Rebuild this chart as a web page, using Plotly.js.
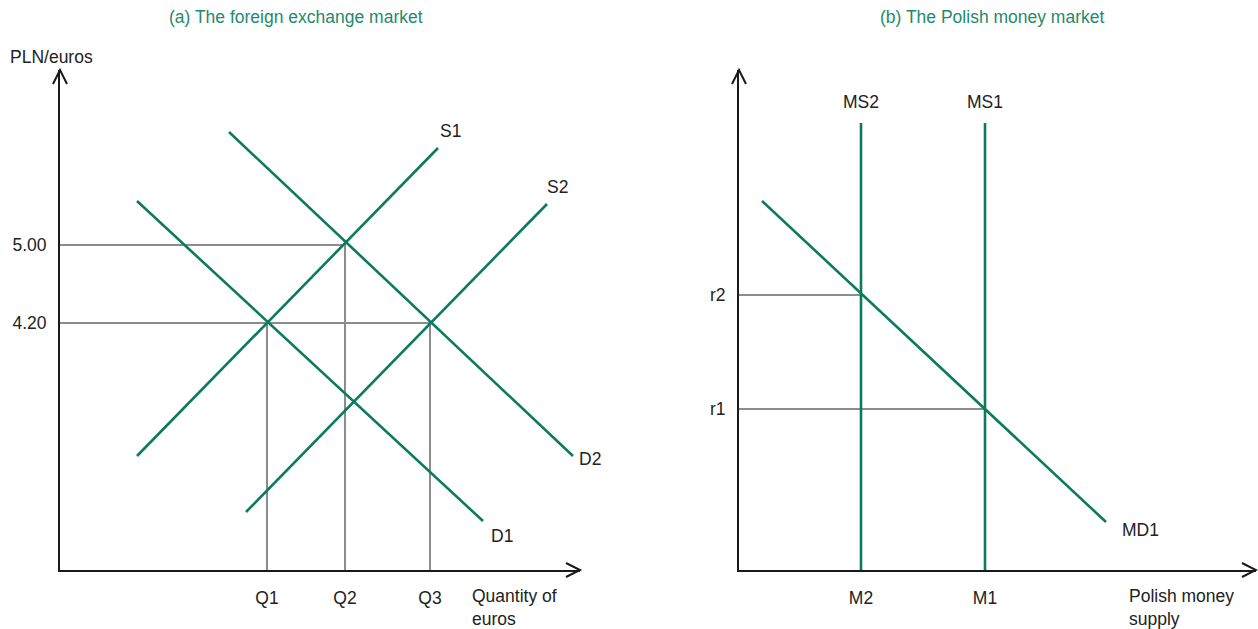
<!DOCTYPE html>
<html>
<head>
<meta charset="utf-8">
<script src="https://cdn.plot.ly/plotly-3.0.1.min.js"></script>
<style>html,body{margin:0;padding:0;background:#fff}#chart{width:1258px;height:629px}</style>
</head>
<body>
<div id="chart"></div>
<script>
// ---- Panel (a): foreign exchange market (abstract units, origin at axes corner)
const s1X = [77, 378],  s1Y = [114, 422];
const s2X = [186, 487], s2Y = [58, 366];
const d1X = [77, 423],  d1Y = [369, 49];
const d2X = [169, 513], d2Y = [438, 114];
const qVals = [207, 285, 370];
const qLabels = ['Q1', 'Q2', 'Q3'];
const pVals = [325, 247];
const pLabels = ['5.00', '4.20'];
const curveLabelsA = ['S1', 'S2', 'D1', 'D2'];
const curveLabelPosA = [[390, 439], [497, 383], [442, 34], [530, 111]];

// ---- Panel (b): Polish money market
const msX = [122, 246];           // MS2, MS1
const msTop = 447;
const msLabels = ['MS2', 'MS1'];
const mLabels = ['M2', 'M1'];
const md1X = [23, 367], md1Y = [369, 48];
const rVals = [275, 161];
const rLabels = ['r2', 'r1'];

const GREEN = '#0b7a5e';
const GRAY = '#8c8c8c';
const BLACK = '#1a1a1a';
const FONT = 'Liberation Sans, Arial, sans-serif';

const green = {color: GREEN, width: 2.6};
const gray = {color: GRAY, width: 2};

const W = 1258, H = 629;
// plot-area geometry (pixels)
const A = {x0: 60, x1: 580, xr: 520};
const B = {x0: 739, x1: 1256, xr: 517};
const Y0 = 570, Y1 = 70, YR = 500;
const px = (p, v) => (p.x0 + v * (p.x1 - p.x0) / p.xr) / W;  // data x -> paper
const py = v => (H - (Y0 - v * (Y0 - Y1) / YR)) / H;         // data y -> paper

const traces = [];
traces.push({x: [0, qVals[1], qVals[1]], y: [pVals[0], pVals[0], 0], xaxis: 'x', yaxis: 'y', mode: 'lines', line: gray, hoverinfo: 'skip'});
traces.push({x: [0, qVals[2], qVals[2]], y: [pVals[1], pVals[1], 0], xaxis: 'x', yaxis: 'y', mode: 'lines', line: gray, hoverinfo: 'skip'});
traces.push({x: [qVals[0], qVals[0]], y: [pVals[1], 0], xaxis: 'x', yaxis: 'y', mode: 'lines', line: gray, hoverinfo: 'skip'});
[[s1X, s1Y], [s2X, s2Y], [d1X, d1Y], [d2X, d2Y]].forEach(([xs, ys]) => {
  traces.push({x: xs, y: ys, xaxis: 'x', yaxis: 'y', mode: 'lines', line: green, hoverinfo: 'skip'});
});
traces.push({x: [0, msX[0]], y: [rVals[0], rVals[0]], xaxis: 'x2', yaxis: 'y2', mode: 'lines', line: gray, hoverinfo: 'skip'});
traces.push({x: [0, msX[1]], y: [rVals[1], rVals[1]], xaxis: 'x2', yaxis: 'y2', mode: 'lines', line: gray, hoverinfo: 'skip'});
msX.forEach(v => traces.push({x: [v, v], y: [0, msTop], xaxis: 'x2', yaxis: 'y2', mode: 'lines', line: green, hoverinfo: 'skip'}));
traces.push({x: md1X, y: md1Y, xaxis: 'x2', yaxis: 'y2', mode: 'lines', line: green, hoverinfo: 'skip'});

const txt = {family: FONT, size: 17.5, color: '#222'};
const titleFont = {family: FONT, size: 17.5, color: '#1f8a6c'};
const annotations = [];
const pa = (x, y, text, extra) => annotations.push(Object.assign({x: x, y: y, xref: 'paper', yref: 'paper', text: text, showarrow: false, xanchor: 'center', yanchor: 'middle', font: txt}, extra || {}));
curveLabelsA.forEach((t, i) => pa(px(A, curveLabelPosA[i][0]), py(curveLabelPosA[i][1]), t));
pa(8 / W, 1 - 57 / H, 'PLN/euros', {xanchor: 'left'});
pa(470 / W, 1 - 607 / H, 'Quantity of<br>euros', {xanchor: 'left', align: 'left'});
msLabels.forEach((t, i) => pa(px(B, msX[i]), py(468), t));
pa(1120 / W, 1 - 530 / H, 'MD1', {xanchor: 'left'});
pa(1127 / W, 1 - 607 / H, 'Polish money<br>supply', {xanchor: 'left', align: 'left'});
pa(296 / W, 1 - 17 / H, '(a) The foreign exchange market', {font: titleFont});
pa(992 / W, 1 - 17 / H, '(b) The Polish money market', {font: titleFont});

const arrowLine = {color: BLACK, width: 2};
const chev = pts => 'M ' + pts.map(p => (p[0] / W).toFixed(5) + ',' + (1 - p[1] / H).toFixed(5)).join(' L ');
const shapes = [
  {type: 'path', xref: 'paper', yref: 'paper', path: chev([[A.x0 - 7, Y1 + 14], [A.x0, Y1], [A.x0 + 7, Y1 + 14]]), line: arrowLine},
  {type: 'path', xref: 'paper', yref: 'paper', path: chev([[B.x0 - 7, Y1 + 14], [B.x0, Y1], [B.x0 + 7, Y1 + 14]]), line: arrowLine},
  {type: 'path', xref: 'paper', yref: 'paper', path: chev([[A.x1 - 14, Y0 - 7], [A.x1, Y0], [A.x1 - 14, Y0 + 7]]), line: arrowLine},
  {type: 'path', xref: 'paper', yref: 'paper', path: chev([[B.x1 - 14, Y0 - 7], [B.x1, Y0], [B.x1 - 14, Y0 + 7]]), line: arrowLine}
];

const axX = (dom, rng, vals, labels) => ({domain: dom, range: rng, showgrid: false, zeroline: false, showline: true, linecolor: BLACK, linewidth: 2,
  tickvals: vals, ticktext: labels, ticks: 'outside', ticklen: 11, tickcolor: 'rgba(0,0,0,0)', tickfont: txt, fixedrange: true});
const axY = (dom, rng, vals, labels) => ({domain: dom, range: rng, showgrid: false, zeroline: false, showline: true, linecolor: BLACK, linewidth: 2,
  tickvals: vals, ticktext: labels, ticks: 'outside', ticklen: 8, tickcolor: 'rgba(0,0,0,0)', tickfont: txt, fixedrange: true});

const yDom = [(H - Y0) / H, (H - Y1) / H];
const layout = {
  width: W, height: H,
  margin: {l: 0, r: 0, t: 0, b: 0},
  paper_bgcolor: '#fff', plot_bgcolor: 'rgba(0,0,0,0)',
  showlegend: false,
  xaxis: axX([A.x0 / W, A.x1 / W], [0, A.xr], qVals, qLabels),
  yaxis: axY(yDom, [0, YR], pVals, pLabels),
  xaxis2: axX([B.x0 / W, B.x1 / W], [0, B.xr], msX, mLabels),
  yaxis2: axY(yDom, [0, YR], rVals, rLabels),
  annotations: annotations,
  shapes: shapes
};
layout.xaxis.anchor = 'y';
layout.yaxis.anchor = 'x';
layout.xaxis2.anchor = 'y2';
layout.yaxis2.anchor = 'x2';

Plotly.newPlot('chart', traces, layout, {displayModeBar: false, staticPlot: true});
</script>
</body>
</html>
